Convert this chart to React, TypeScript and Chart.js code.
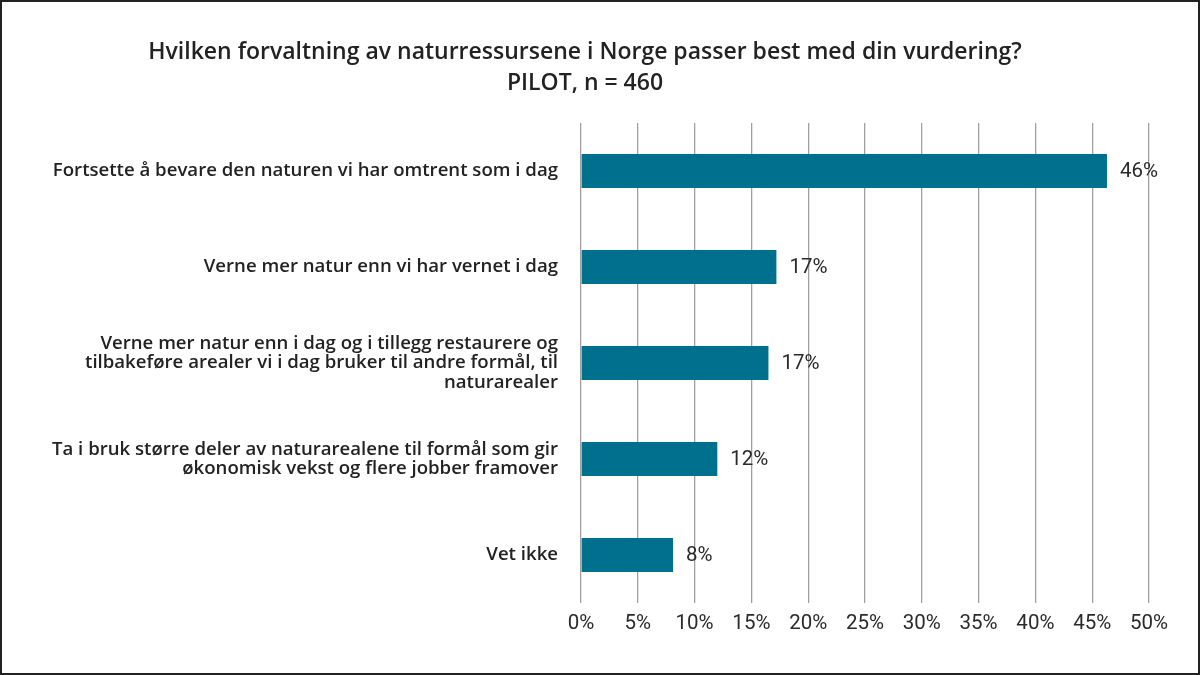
import React, { useEffect, useRef } from "react";
import { Chart, registerables } from "chart.js";

Chart.register(...registerables);

const titleLines = [
  "Hvilken forvaltning av naturressursene i Norge passer best med din vurdering?",
  "PILOT, n = 460",
];

const categories: (string | string[])[] = [
  "Fortsette å bevare den naturen vi har omtrent som i dag",
  "Verne mer natur enn vi har vernet i dag",
  [
    "Verne mer natur enn i dag og i tillegg restaurere og",
    "tilbakeføre arealer vi i dag bruker til andre formål, til",
    "naturarealer",
  ],
  [
    "Ta i bruk større deler av naturarealene til formål som gir",
    "økonomisk vekst og flere jobber framover",
  ],
  "Vet ikke",
];

const values = [46.3, 17.2, 16.5, 12.0, 8.1];
const valueLabels = ["46%", "17%", "17%", "12%", "8%"];

const BAR_COLOR = "#00708F";
const TEXT_COLOR = "#222222";

const titlePlugin = {
  id: "customTitle",
  afterDraw(chart: any) {
    const ctx = chart.ctx;
    ctx.save();
    ctx.fillStyle = TEXT_COLOR;
    ctx.font = "600 23px 'Open Sans', sans-serif";
    ctx.textAlign = "center";
    ctx.textBaseline = "middle";
    ctx.fillText(titleLines[0], 585, 52);
    ctx.fillText(titleLines[1], 585, 83);
    ctx.restore();
  },
};

const valueLabelPlugin = {
  id: "valueLabels",
  afterDatasetsDraw(chart: any) {
    const ctx = chart.ctx;
    const meta = chart.getDatasetMeta(0);
    ctx.save();
    ctx.fillStyle = "#2a2a2a";
    ctx.font = "20.5px Roboto, sans-serif";
    ctx.textAlign = "left";
    ctx.textBaseline = "middle";
    meta.data.forEach((bar: any, i: number) => {
      ctx.fillText(valueLabels[i], bar.x + 13, bar.y + 1);
    });
    ctx.restore();
  },
};

export default function App() {
  const canvasRef = useRef<HTMLCanvasElement | null>(null);

  useEffect(() => {
    if (!canvasRef.current) return;
    const chart = new Chart(canvasRef.current, {
      type: "bar",
      data: {
        labels: categories,
        datasets: [
          {
            data: values,
            backgroundColor: BAR_COLOR,
            borderWidth: 0,
            categoryPercentage: 1,
            barPercentage: 0.355,
          },
        ],
      },
      options: {
        indexAxis: "y",
        animation: false,
        responsive: false,
        maintainAspectRatio: false,
        layout: { padding: { left: 9, right: 51, top: 123, bottom: 0 } },
        plugins: {
          legend: { display: false },
          title: { display: false },
          tooltip: { enabled: false },
        },
        scales: {
          x: {
            min: 0,
            max: 50,
            afterFit: (s: any) => {
              s.height = 72;
            },
            ticks: {
              stepSize: 5,
              padding: 9,
              color: "#2a2a2a",
              font: { family: "Roboto, sans-serif", size: 20.5 },
              callback: (v: any) => v + "%",
            },
            grid: {
              color: "#a0a0a0",
              lineWidth: 1.3,
              drawTicks: false,
            },
            border: { display: false },
          },
          y: {
            afterFit: (s: any) => {
              s.width = 572;
            },
            ticks: {
              padding: 23,
              color: TEXT_COLOR,
              font: { family: "'Open Sans', sans-serif", size: 18.6, weight: "600", lineHeight: 1.05 },
              crossAlign: "near",
            },
            grid: { display: false, drawTicks: false },
            border: { display: false },
          },
        },
      },
      plugins: [titlePlugin, valueLabelPlugin],
    });
    return () => chart.destroy();
  }, []);

  return (
    <div style={{ position: "fixed", left: 0, top: 0, width: 1200, height: 675, background: "#fff" }}>
      <canvas ref={canvasRef} width={1200} height={675} style={{ position: "absolute", left: 0, top: 0 }} />
      <div
        style={{
          position: "absolute",
          left: 0,
          top: 0,
          width: 1200,
          height: 675,
          boxSizing: "border-box",
          border: "2px solid #222",
          pointerEvents: "none",
        }}
      />
    </div>
  );
}
